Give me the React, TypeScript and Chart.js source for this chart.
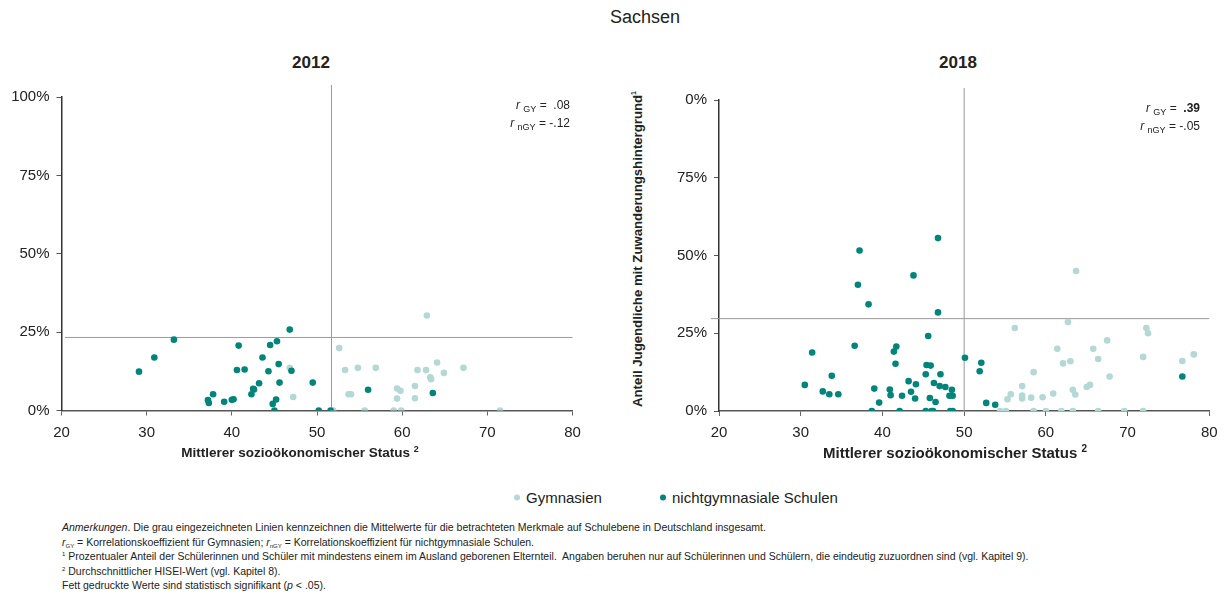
import React, { useEffect, useRef } from "react";
import { Chart, registerables } from "chart.js";

Chart.register(...registerables);

// ---------- data ----------
const xTickValues = [20, 30, 40, 50, 60, 70, 80];
const yTickValues = [0, 25, 50, 75, 100];
const yTickLabels2012 = ["0%", "25%", "50%", "75%", "100%"];
const yTickLabels2018 = ["0%", "25%", "50%", "75%", "0%"];

// 2012 – Gymnasien
const gym2012X = [46.8, 47.2, 51.9, 52.6, 53.3, 53.7, 54.0, 54.8, 55.6, 56.9, 59.0, 59.4, 59.4, 59.8, 59.9, 61.5, 61.5, 61.8, 62.8, 62.9, 63.3, 63.4, 64.1, 64.9, 67.2, 71.5];
const gym2012Y = [13.6, 4.3, 0, 19.9, 12.9, 5.2, 5.2, 13.6, 0, 13.6, 0, 7.0, 3.8, 6.3, 0, 7.8, 3.9, 12.9, 12.9, 30.3, 10.6, 10.0, 15.3, 12.0, 13.6, 0];
// 2012 – nichtgymnasiale Schulen
const ngy2012X = [29.1, 30.9, 33.2, 37.2, 37.3, 37.8, 39.1, 40.0, 40.2, 40.8, 40.6, 41.5, 42.3, 42.5, 42.6, 43.2, 43.6, 44.3, 44.5, 44.8, 45.2, 45.0, 45.3, 45.5, 45.6, 46.8, 47.0, 49.5, 50.2, 51.6, 56.0, 63.6];
const ngy2012Y = [12.4, 16.9, 22.6, 3.3, 2.4, 5.2, 2.8, 3.4, 3.6, 20.7, 12.9, 13.1, 5.2, 6.9, 6.7, 8.7, 16.9, 12.5, 20.9, 2.1, 3.5, 0, 22.1, 14.8, 8.9, 25.8, 12.7, 8.9, 0, 0, 6.6, 5.6];

// 2018 – Gymnasien
const gym2018X = [54.4, 55.1, 55.3, 55.7, 56.2, 57.1, 57.1, 57.1, 58.2, 58.5, 58.5, 59.6, 60.0, 60.9, 61.4, 61.9, 62.1, 62.7, 63.0, 63.3, 63.3, 63.6, 63.7, 65.0, 65.4, 65.8, 66.4, 66.4, 67.5, 67.8, 69.6, 71.9, 71.9, 72.3, 72.5, 76.7, 78.1];
const gym2018Y = [0, 0, 3.8, 5.4, 26.7, 8.0, 4.0, 5.0, 4.3, 12.5, 0, 4.4, 0, 5.6, 20.0, 0, 15.3, 28.6, 16.0, 6.8, 0, 5.3, 45.0, 7.7, 8.4, 20.0, 16.7, 0, 22.7, 11.1, 0, 0, 17.4, 26.7, 25.0, 16.1, 18.2];
// 2018 – nichtgymnasiale Schulen
const ngy2018X = [30.5, 31.4, 32.7, 33.5, 33.8, 34.6, 36.6, 37.0, 37.2, 38.3, 39.0, 38.7, 39.6, 40.9, 41.0, 41.4, 41.7, 41.6, 42.1, 42.4, 43.2, 43.5, 43.8, 44.0, 44.1, 45.3, 45.3, 45.4, 45.6, 45.8, 45.9, 46.0, 46.2, 46.3, 46.5, 46.8, 46.8, 47.0, 47.1, 47.7, 48.2, 48.5, 48.6, 48.3, 48.6, 50.1, 51.9, 52.1, 52.7, 53.8, 76.7];
const ngy2018Y = [8.4, 18.8, 6.3, 5.4, 11.3, 5.4, 21.0, 40.6, 51.6, 34.3, 7.2, 0, 2.7, 6.9, 5.1, 19.1, 20.7, 15.2, 0, 4.9, 9.6, 6.2, 43.6, 4.0, 8.6, 0, 11.8, 14.8, 24.1, 4.2, 14.6, 0, 0, 9.0, 2.9, 55.6, 31.7, 8.0, 11.8, 7.7, 4.9, 6.8, 4.9, 0, 0, 17.1, 12.8, 15.5, 2.6, 2.0, 11.1];

// national means (grey lines)
const meanX = [51.7, 50.0];
const meanY = [23.3, 29.7];

const rGY = [".08", ".39"];
const rnGY = ["-.12", "-.05"];

const COLOR_GYM = "#b3d8d5";
const COLOR_NGY = "#00857a";
const FONT = "'Liberation Sans', Arial, sans-serif";

const toPoints = (xs: number[], ys: number[]) => xs.map((x, i) => ({ x, y: ys[i] }));

type PanelProps = {
  left: number;
  top: number;
  width: number;
  height: number;
  yAxisWidth: number;
  padTop: number;
  padRight: number;
  xAxisHeight: number;
  gymX: number[];
  gymY: number[];
  ngyX: number[];
  ngyY: number[];
  mx: number;
  my: number;
  yLabels: string[];
  hLineStart: number;
};

function Panel(p: PanelProps) {
  const ref = useRef<HTMLCanvasElement | null>(null);
  useEffect(() => {
    if (!ref.current) return;
    const meanLines = {
      id: "meanLines",
      beforeDatasetsDraw(chart: any) {
        const { ctx, chartArea, scales } = chart;
        const xs = scales.x;
        const ys = scales.y;
        const px = xs.getPixelForValue(p.mx);
        const py = ys.getPixelForValue(p.my);
        ctx.save();
        ctx.strokeStyle = "#9a9a9a";
        ctx.lineWidth = 1;
        ctx.beginPath();
        ctx.moveTo(px, chartArea.top - 12);
        ctx.lineTo(px, chartArea.bottom);
        ctx.moveTo(xs.getPixelForValue(p.hLineStart), py);
        ctx.lineTo(chartArea.right, py);
        ctx.stroke();
        ctx.restore();
      },
    };
    const chart = new Chart(ref.current, {
      type: "scatter",
      data: {
        datasets: [
          {
            label: "nichtgymnasiale Schulen",
            data: toPoints(p.ngyX, p.ngyY),
            backgroundColor: COLOR_NGY,
            borderWidth: 0,
            pointRadius: 3.3,
            order: 0,
          },
          {
            label: "Gymnasien",
            data: toPoints(p.gymX, p.gymY),
            backgroundColor: COLOR_GYM,
            borderWidth: 0,
            pointRadius: 3.3,
            order: 1,
          },
        ],
      },
      options: {
        animation: false,
        responsive: false,
        maintainAspectRatio: false,
        layout: { padding: { top: p.padTop, right: p.padRight, left: 0, bottom: 0 } },
        plugins: { legend: { display: false }, tooltip: { enabled: false }, title: { display: false } },
        scales: {
          x: {
            type: "linear",
            min: 20,
            max: 80,
            afterBuildTicks: (axis: any) => {
              axis.ticks = xTickValues.map((v) => ({ value: v }));
            },
            afterFit: (axis: any) => {
              axis.height = p.xAxisHeight;
            },
            ticks: { color: "#222", font: { family: FONT, size: 15 }, padding: 8, maxRotation: 0 },
            grid: { display: true, drawOnChartArea: false, drawTicks: true, tickLength: 5, color: "#666" },
            border: { display: true, color: "#555", width: 1.5 },
          },
          y: {
            type: "linear",
            min: 0,
            max: 100,
            afterBuildTicks: (axis: any) => {
              axis.ticks = yTickValues.map((v) => ({ value: v }));
            },
            afterFit: (axis: any) => {
              axis.width = p.yAxisWidth;
            },
            ticks: {
              color: "#222",
              font: { family: FONT, size: 15 },
              padding: 7,
              callback: (v: any) => p.yLabels[yTickValues.indexOf(Number(v))],
            },
            grid: { display: true, drawOnChartArea: false, drawTicks: true, tickLength: 5, color: "#555" },
            border: { display: true, color: "#333", width: 1.5 },
          },
        },
      },
      plugins: [meanLines],
    });
    return () => chart.destroy();
  }, []);
  return (
    <canvas
      ref={ref}
      width={p.width}
      height={p.height}
      style={{ position: "absolute", left: p.left, top: p.top, width: p.width, height: p.height }}
    />
  );
}

const abs = (x: number, y: number, extra: React.CSSProperties = {}): React.CSSProperties => ({
  position: "absolute",
  left: x,
  top: y,
  whiteSpace: "nowrap",
  ...extra,
});

const tinySub: React.CSSProperties = { fontSize: 6, lineHeight: 0, verticalAlign: "-2px" };
const tinySup: React.CSSProperties = { fontSize: 6, lineHeight: 0, verticalAlign: "4px" };

function RLabel({ right, top, gy, ngy, bold }: { right: number; top: number; gy: string; ngy: string; bold: boolean }) {
  const sub: React.CSSProperties = { fontSize: 9, lineHeight: 0, verticalAlign: "-3px" };
  return (
    <div style={{ position: "absolute", right: 1232 - right, top, textAlign: "right", fontSize: 12, lineHeight: "18px", color: "#222" }}>
      <div>
        <i>r</i> <span style={sub}>GY</span> = &nbsp;<span style={{ fontWeight: bold ? "bold" : "normal" }}>{gy}</span>
      </div>
      <div>
        <i>r</i> <span style={sub}>nGY</span> = {ngy}
      </div>
    </div>
  );
}

export default function App() {
  return (
    <div
      style={{
        position: "fixed",
        left: 0,
        top: 0,
        width: 1232,
        height: 596,
        background: "#fff",
        fontFamily: FONT,
        color: "#222",
        overflow: "hidden",
      }}
    >
      <div style={abs(645, 17, { transform: "translate(-50%,-50%)", fontSize: 18, color: "#222" })}>Sachsen</div>
      <div style={abs(311, 63, { transform: "translate(-50%,-50%)", fontSize: 17, fontWeight: "bold" })}>2012</div>
      <div style={abs(958, 63, { transform: "translate(-50%,-50%)", fontSize: 17, fontWeight: "bold" })}>2018</div>

      <Panel
        left={0}
        top={80}
        width={600}
        height={380}
        yAxisWidth={61.5}
        padTop={17}
        padRight={27.5}
        xAxisHeight={49.5}
        gymX={gym2012X}
        gymY={gym2012Y}
        ngyX={ngy2012X}
        ngyY={ngy2012Y}
        mx={meanX[0]}
        my={meanY[0]}
        yLabels={yTickLabels2012}
        hLineStart={20.4}
      />
      <Panel
        left={650}
        top={80}
        width={582}
        height={380}
        yAxisWidth={69}
        padTop={20}
        padRight={22.7}
        xAxisHeight={49}
        gymX={gym2018X}
        gymY={gym2018Y}
        ngyX={ngy2018X}
        ngyY={ngy2018Y}
        mx={meanX[1]}
        my={meanY[1]}
        yLabels={yTickLabels2018}
        hLineStart={19}
      />

      <RLabel right={570} top={96} gy={rGY[0]} ngy={rnGY[0]} bold={false} />
      <RLabel right={1200} top={99} gy={rGY[1]} ngy={rnGY[1]} bold={true} />

      <div style={abs(300, 452, { transform: "translate(-50%,-50%)", fontSize: 13.5, fontWeight: "bold" })}>
        Mittlerer sozioökonomischer Status <sup style={{ fontSize: 9 }}>2</sup>
      </div>
      <div style={abs(955, 452, { transform: "translate(-50%,-50%)", fontSize: 15, fontWeight: "bold" })}>
        Mittlerer sozioökonomischer Status <sup style={{ fontSize: 10 }}>2</sup>
      </div>
      <div
        style={abs(637, 249, {
          transform: "translate(-50%,-50%) rotate(-90deg)",
          fontSize: 13.2,
          fontWeight: "bold",
        })}
      >
        Anteil Jugendliche mit Zuwanderungshintergrund<sup style={{ fontSize: 7 }}>1</sup>
      </div>

      {/* legend */}
      <div style={abs(514, 497, { transform: "translateY(-50%)", fontSize: 15, display: "flex", alignItems: "center" })}>
        <span style={{ width: 6, height: 6, borderRadius: 3, background: COLOR_GYM, display: "inline-block", marginRight: 6 }} />
        Gymnasien
      </div>
      <div style={abs(660, 497, { transform: "translateY(-50%)", fontSize: 15, display: "flex", alignItems: "center" })}>
        <span style={{ width: 6, height: 6, borderRadius: 3, background: COLOR_NGY, display: "inline-block", marginRight: 6 }} />
        nichtgymnasiale Schulen
      </div>

      {/* footnotes */}
      <div style={abs(62, 520, { fontSize: 10.5, lineHeight: "14.5px", color: "#222" })}>
        <div>
          <i>Anmerkungen</i>. Die grau eingezeichneten Linien kennzeichnen die Mittelwerte für die betrachteten Merkmale auf Schulebene in Deutschland insgesamt.
        </div>
        <div>
          <i>r</i>
          <span style={tinySub}>GY</span> = Korrelationskoeffizient für Gymnasien; <i>r</i>
          <span style={tinySub}>nGY</span> = Korrelationskoeffizient für nichtgymnasiale Schulen.
        </div>
        <div>
          <span style={tinySup}>1</span> Prozentualer Anteil der Schülerinnen und Schüler mit mindestens einem im Ausland geborenen Elternteil.&nbsp; Angaben beruhen nur auf Schülerinnen und Schülern, die eindeutig zuzuordnen sind (vgl. Kapitel 9).
        </div>
        <div>
          <span style={tinySup}>2</span> Durchschnittlicher HISEI-Wert (vgl. Kapitel 8).
        </div>
        <div>
          Fett gedruckte Werte sind statistisch signifikant (<i>p</i> &lt; .05).
        </div>
      </div>
    </div>
  );
}
